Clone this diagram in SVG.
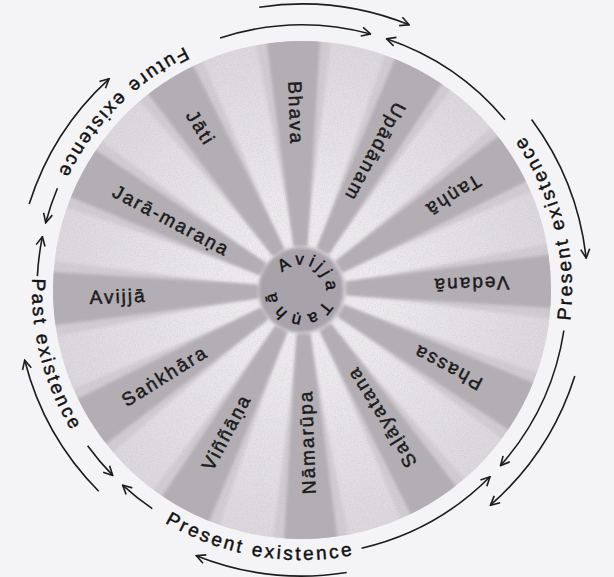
<svg xmlns="http://www.w3.org/2000/svg" width="614" height="577" viewBox="0 0 614 577">
<defs>
<style>
.lbl{font-family:"Liberation Sans","DejaVu Sans",Arial,sans-serif;font-size:19px;fill:#111;stroke:#111;stroke-width:0.5px;letter-spacing:2px}
.ring{font-family:"Liberation Sans","DejaVu Sans",Arial,sans-serif;font-size:19px;fill:#111;stroke:#111;stroke-width:0.45px;letter-spacing:2.7px}
.ctr{font-family:"Liberation Sans","DejaVu Sans",Arial,sans-serif;font-size:17px;fill:#111;stroke:#111;stroke-width:0.45px}
.arc{fill:none;stroke:#1c1c1c;stroke-width:1.6;marker-end:url(#ah)}
.band{fill:#b2aeb3;filter:url(#soft)}
.ray{fill:url(#rayGrad);filter:url(#soft)}
</style>
<marker id="ah" markerUnits="userSpaceOnUse" markerWidth="12" markerHeight="12" viewBox="0 0 12 12" refX="11" refY="6" orient="auto"><path d="M2,1.5 L11,6 L2,10.5" fill="none" stroke="#1c1c1c" stroke-width="1.6"/></marker>
<radialGradient id="rayGrad" gradientUnits="userSpaceOnUse" cx="302" cy="290" r="250">
<stop offset="0" stop-color="#f2f0f3" stop-opacity="1"/>
<stop offset="0.4" stop-color="#eeebef" stop-opacity="0.95"/>
<stop offset="1" stop-color="#e6e3e7" stop-opacity="0.55"/>
</radialGradient>
<filter id="soft" x="-10%" y="-10%" width="120%" height="120%"><feGaussianBlur stdDeviation="1.4"/></filter>
<filter id="grain" x="0" y="0" width="100%" height="100%">
<feTurbulence type="fractalNoise" baseFrequency="0.85" numOctaves="2" seed="4" result="n"/>
<feColorMatrix in="n" type="matrix" values="0 0 0 0 0.45  0 0 0 0 0.42  0 0 0 0 0.47  0 0 0 1.6 -0.6" result="g"/>
<feComposite in="g" in2="SourceGraphic" operator="in"/>
</filter>
<clipPath id="diskClip"><circle cx="302" cy="290" r="249"/></clipPath>
<polygon id="bandShape" points="258,283 50,263 50,317 258,297"/>
<polygon id="rayShape" points="258,283.5 50,262 50,318 258,296.5"/>
<path id="tpFuture" d="M277.1,21.2 A270,270 0 0 0 32.9,267.9"/>
<path id="tpPast" d="M57.9,174.6 A270,270 0 0 0 146.0,510.3"/>
<path id="tpPresB" d="M96.4,465.0 A270,270 0 0 0 438.6,522.9"/>
<path id="tpPresR" d="M545.5,406.7 A270,270 0 0 0 459.2,70.5"/>
<path id="tpCenter" d="M279.35,277.5 A25,25 0 1 1 322.65,302.5 A25,25 0 1 1 279.35,277.5"/>
</defs>
<rect width="614" height="577" fill="#f4f3f5"/>
<g id="wheel-disk">
<circle cx="302" cy="290" r="249" fill="#d1cdd2"/>
<g clip-path="url(#diskClip)">
<use href="#rayShape" class="ray" transform="rotate(13 302 290)"/>
<use href="#rayShape" class="ray" transform="rotate(43 302 290)"/>
<use href="#rayShape" class="ray" transform="rotate(73 302 290)"/>
<use href="#rayShape" class="ray" transform="rotate(103 302 290)"/>
<use href="#rayShape" class="ray" transform="rotate(133 302 290)"/>
<use href="#rayShape" class="ray" transform="rotate(163 302 290)"/>
<use href="#rayShape" class="ray" transform="rotate(193 302 290)"/>
<use href="#rayShape" class="ray" transform="rotate(223 302 290)"/>
<use href="#rayShape" class="ray" transform="rotate(253 302 290)"/>
<use href="#rayShape" class="ray" transform="rotate(283 302 290)"/>
<use href="#rayShape" class="ray" transform="rotate(313 302 290)"/>
<use href="#rayShape" class="ray" transform="rotate(343 302 290)"/>
</g>
</g>
<g id="spokes" clip-path="url(#diskClip)">
<g id="n-avijja" transform="rotate(-2 302 290)"><use href="#bandShape" class="band"/><text class="lbl" x="118" y="296.5" text-anchor="middle">Avijjā</text></g>
<g id="n-jaramarana" transform="rotate(28 302 290)"><use href="#bandShape" class="band"/><text class="lbl" x="154" y="296.5" text-anchor="middle">Jarā-maraṇa</text></g>
<g id="n-jati" transform="rotate(58 302 290)"><use href="#bandShape" class="band"/><text class="lbl" x="111" y="296.5" text-anchor="middle">Jāti</text></g>
<g id="n-bhava" transform="rotate(88 302 290)"><use href="#bandShape" class="band"/><text class="lbl" x="125" y="296.5" text-anchor="middle">Bhava</text></g>
<g id="n-upadanam" transform="rotate(118 302 290)"><use href="#bandShape" class="band"/><text class="lbl" x="146" y="296.5" text-anchor="middle">Upādānam</text></g>
<g id="n-tanha" transform="rotate(148 302 290)"><use href="#bandShape" class="band"/><text class="lbl" x="124" y="296.5" text-anchor="middle">Taṇhā</text></g>
<g id="n-vedana" transform="rotate(178 302 290)"><use href="#bandShape" class="band"/><text class="lbl" x="133" y="296.5" text-anchor="middle">Vedanā</text></g>
<g id="n-phassa" transform="rotate(208 302 290)"><use href="#bandShape" class="band"/><text class="lbl" x="137" y="296.5" text-anchor="middle">Phassa</text></g>
<g id="n-salayatana" transform="rotate(238 302 290)"><use href="#bandShape" class="band"/><text class="lbl" x="152" y="296.5" text-anchor="middle">Saḷāyatana</text></g>
<g id="n-namarupa" transform="rotate(268 302 290)"><use href="#bandShape" class="band"/><text class="lbl" x="150" y="296.5" text-anchor="middle">Nāmarūpa</text></g>
<g id="n-vinnana" transform="rotate(298 302 290)"><use href="#bandShape" class="band"/><text class="lbl" x="141" y="296.5" text-anchor="middle">Viññāṇa</text></g>
<g id="n-sankhara" transform="rotate(328 302 290)"><use href="#bandShape" class="band"/><text class="lbl" x="140" y="296.5" text-anchor="middle">Saṅkhāra</text></g>
</g>
<circle cx="302" cy="290" r="249" fill="#000" filter="url(#grain)" opacity="0.35"/>
<g id="n-center">
<circle cx="301" cy="290" r="42" fill="#a8a3aa" filter="url(#soft)"/>
<text class="ctr"><textPath href="#tpCenter" startOffset="5.4"><tspan letter-spacing="4">Avijja</tspan><tspan dx="6.1" letter-spacing="4.8">Taṇhā</tspan></textPath></text>
</g>
<g id="connectors">
<path class="arc" d="M259.2,7.2 A286,286 0 0 1 409.1,24.8"/>
<path class="arc" d="M531.6,119.5 A286,286 0 0 1 586.2,258.1"/>
<path class="arc" d="M574.8,376.0 A286,286 0 0 1 490.4,505.2"/>
<path class="arc" d="M346.7,572.5 A286,286 0 0 1 196.3,555.7"/>
<path class="arc" d="M98.7,491.2 A286,286 0 0 1 24.7,360.2"/>
<path class="arc" d="M29.2,204.0 A286,286 0 0 1 109.1,78.8"/>
<path class="arc" d="M220.1,38.0 A265,265 0 0 1 370.6,34.0"/>
<path class="arc" d="M505.0,119.7 A265,265 0 0 0 386.5,38.8"/>
<path class="arc" d="M563.9,330.5 A265,265 0 0 1 500.5,465.6"/>
<path class="arc" d="M361.6,548.2 A265,265 0 0 0 490.0,476.7"/>
<path class="arc" d="M152.3,508.7 A265,265 0 0 1 122.6,485.1"/>
<path class="arc" d="M87.6,445.8 A265,265 0 0 0 112.7,475.4"/>
<path class="arc" d="M37.4,276.1 A265,265 0 0 1 42.4,236.7"/>
<path class="arc" d="M57.4,188.2 A265,265 0 0 0 45.7,222.7"/>
</g>
<g id="ring-labels">
<text class="ring"><textPath href="#tpFuture" startOffset="50%" text-anchor="middle">Future existence</textPath></text>
<text class="ring"><textPath href="#tpPast" startOffset="50%" text-anchor="middle">Past existence</textPath></text>
<text class="ring"><textPath href="#tpPresB" startOffset="50%" text-anchor="middle">Present existence</textPath></text>
<text class="ring"><textPath href="#tpPresR" startOffset="50%" text-anchor="middle">Present existence</textPath></text>
</g>
</svg>
